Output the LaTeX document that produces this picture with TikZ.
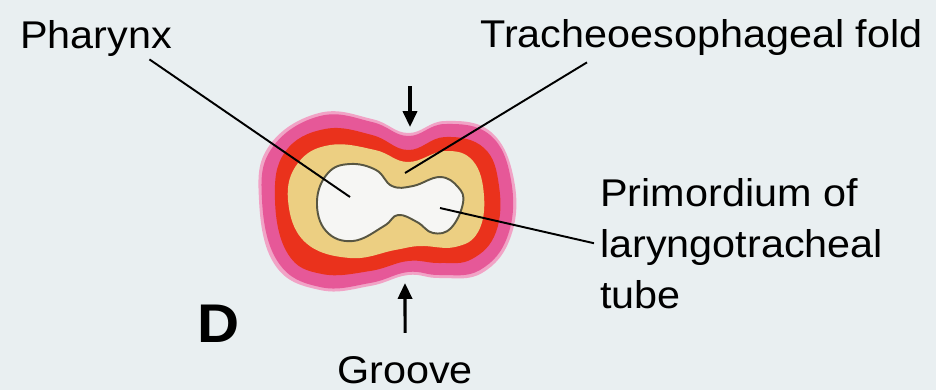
\documentclass[tikz,border=0pt]{standalone}
\usepackage{fontspec}
\setmainfont{Liberation Sans}[FakeStretch=1.07]
\usepackage{xcolor}
\usepackage{tikz}
\usetikzlibrary{arrows.meta,positioning,calc}

\definecolor{bgpaper}{RGB}{233,239,241}
\definecolor{outerpink}{RGB}{230,88,152}
\definecolor{midred}{RGB}{234,50,28}
\definecolor{foldtan}{RGB}{236,207,130}
\definecolor{lumenwhite}{RGB}{246,246,244}
\definecolor{rimline}{RGB}{88,86,66}

\begin{document}
\begin{tikzpicture}[
  x=0.02cm, y=-0.02cm,
  lbl/.style={inner sep=0pt, anchor=base west, font=\fontsize{22}{29}\selectfont},
  leader/.style={draw=black, line width=1.1pt},
  push/.style={-{Triangle[length=9pt,width=8pt]}, line width=1.8pt},
  layer/.style={smooth cycle, tension=0.7}
]
  \fill[bgpaper] (0,0) rectangle (936,390);
  \useasboundingbox (0,0) rectangle (936,390);

  % cross section, outside in
  \fill[outerpink!55] plot[layer] coordinates {(259,200) (269,146) (319,113) (372,119) (408,133) (445,121) (491,132) (514,180) (511,236) (482,273) (440,278) (408,275) (370,286) (320,290) (275,265)};
  \fill[outerpink] plot[layer] coordinates {(262,200) (272,148) (320,116) (372,122) (408,136) (445,124) (490,135) (511,180) (508,235) (480,270) (440,275) (408,272) (370,283) (320,287) (278,262)};
  \fill[midred] plot[layer] coordinates {(275,200) (285,152) (325,129) (372,135) (408,150) (445,137) (484,148) (499,186) (496,232) (472,259) (440,263) (408,261) (370,271) (322,274) (288,254)};
  \fill[foldtan] plot[layer] coordinates {(288,200) (298,163) (330,145) (375,150) (408,162) (445,151) (473,161) (484,196) (478,232) (455,247) (420,246) (395,250) (350,258) (305,242)};
  \filldraw[fill=lumenwhite, draw=rimline, line width=1.1pt] plot[layer] coordinates {(317,201) (328,173) (350,164) (376,170) (392,186) (413,186) (440,177) (458,187) (463,203) (451,228) (433,233) (417,222) (398,215) (384,226) (353,241) (326,231)};

  % labels
  \node[lbl] (pharynx) at (20,48) {Pharynx};
  \node[lbl] (fold) at (480,47) {Tracheoesophageal fold};
  \node[lbl, align=left] (primordium) at (600,308) {Primordium of\\laryngotracheal\\tube};
  \node[lbl] (groove) at (337,383) {Groove};
  \node[lbl, font=\fontsize{31}{31}\selectfont\bfseries] (panel) at (197,342) {D};

  \coordinate (pharynxend) at (350,197);
  \coordinate (foldend) at (405,173);
  \coordinate (tubeend) at (440,208);
  \coordinate (topnotch) at (410,127);
  \coordinate (toppress) at (410,86);
  \coordinate (bottomnotch) at (405,283);

  \draw[leader] ($(pharynx.south east)+(-23,3)$) -- (pharynxend);
  \draw[leader] ($(fold.south west)+(107,7)$) -- (foldend);
  \draw[leader] (tubeend) -- ($(primordium.west)+(-6,0)$);
  \draw[push] (toppress) -- (topnotch);
  \draw[push, shorten <=13pt] (groove.north) -- (bottomnotch);
\end{tikzpicture}
\end{document}
